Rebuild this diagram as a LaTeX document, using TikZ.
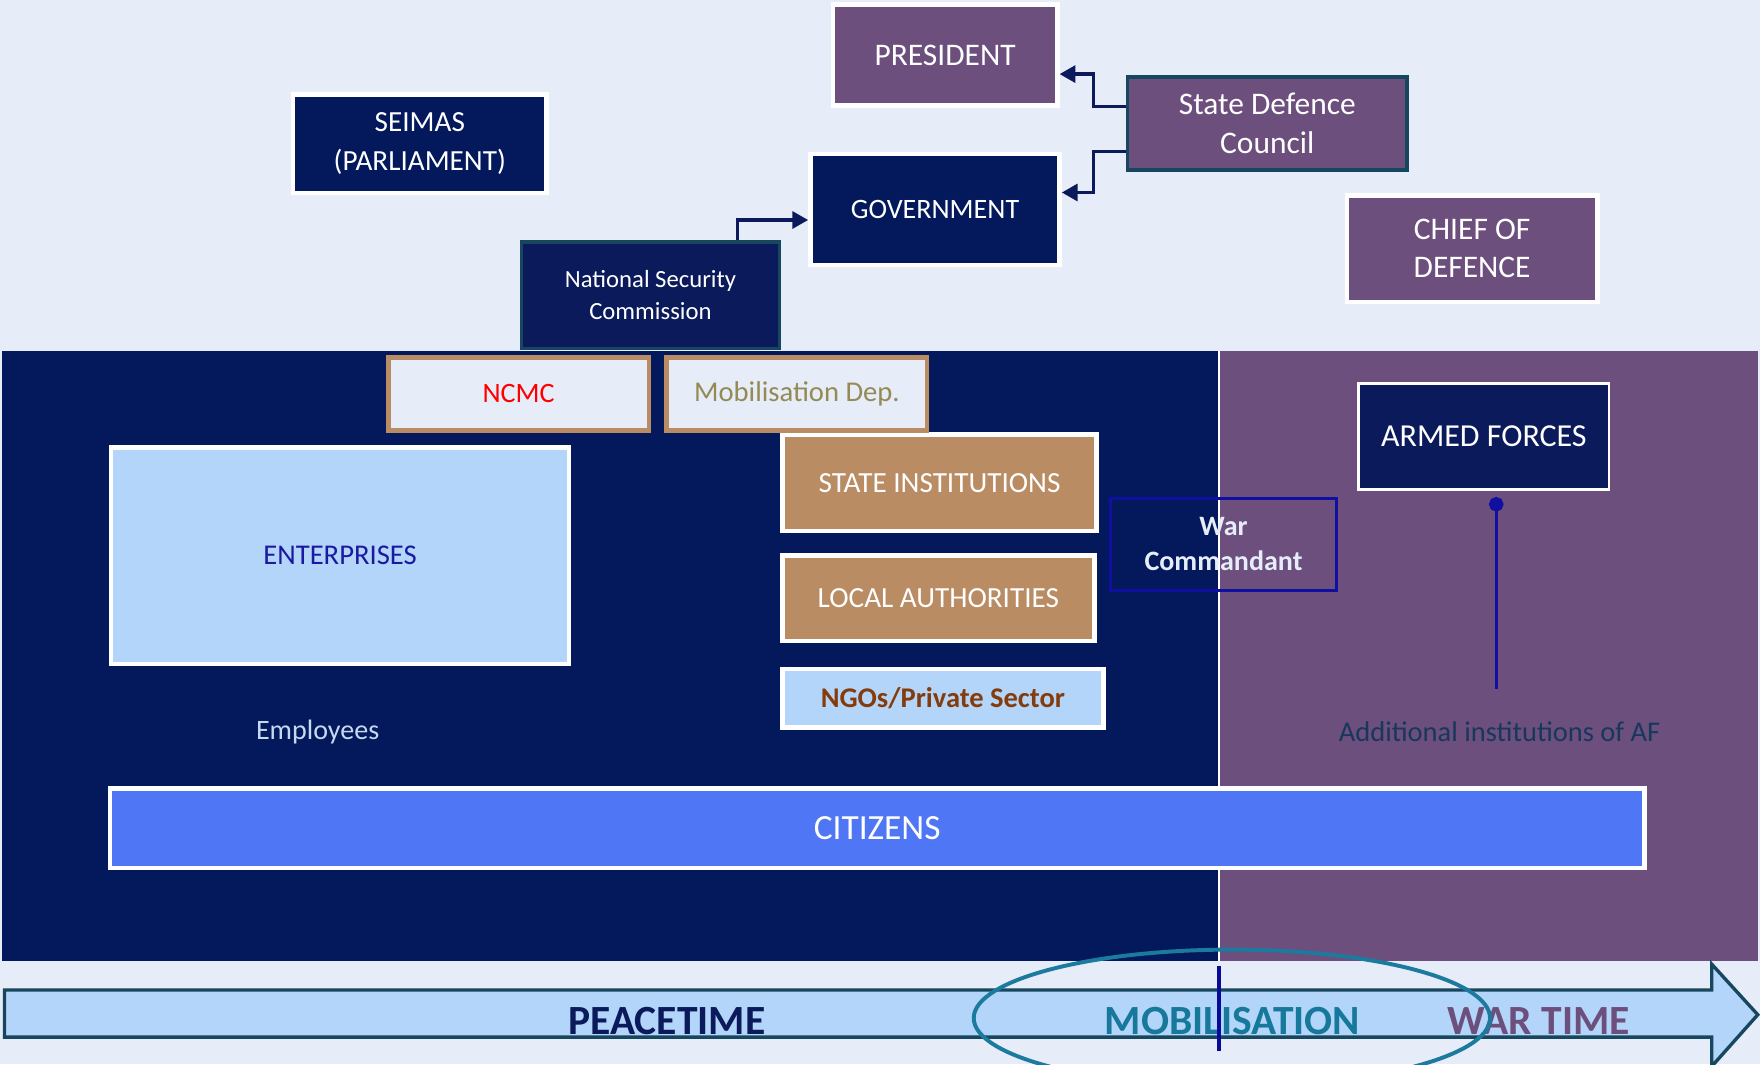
\documentclass[tikz,border=0pt]{standalone}
\usepackage{fontspec}
\setmainfont{Carlito}
\usetikzlibrary{arrows.meta,calc}
\definecolor{bg}{HTML}{E6ECF8}
\definecolor{navy}{HTML}{03195C}
\definecolor{navyb}{HTML}{0B1A5A}
\definecolor{plum}{HTML}{6C4F7C}
\definecolor{tan}{HTML}{B98C64}
\definecolor{lblue}{HTML}{B4D5FA}
\definecolor{citblue}{HTML}{4F76F5}
\definecolor{tealb}{HTML}{17475E}
\definecolor{olive}{HTML}{948A54}
\definecolor{brownt}{HTML}{843C0C}
\definecolor{entblue}{HTML}{1A1AA0}
\definecolor{warblue}{HTML}{1010A0}
\definecolor{elteal}{HTML}{1C7A9E}
\definecolor{mobteal}{HTML}{16789A}
\definecolor{emptext}{HTML}{C6D9F1}
\definecolor{addtext}{HTML}{17375E}
\definecolor{vline}{HTML}{0A0A9A}
\begin{document}
\begin{tikzpicture}[x=1pt,y=-1pt,
  box/.style={draw=white, line width=4pt, inner sep=0pt, align=center, text=white,
    font=\fontsize{25}{35}\selectfont},
  tealbox/.style={box, draw=tealb, line width=3pt},
  tanbox/.style={box, draw=tan, fill=bg},
  conn/.style={draw=navyb, line width=3pt, -{Triangle[length=14pt,width=15pt]}},
  period/.style={font=\fontsize{37}{40}\bfseries\selectfont, anchor=base, inner sep=0pt}]
\useasboundingbox (0,0) rectangle (1568,948);
\fill[bg] (0,0) rectangle (1568,948);

% top level
\node[box, fill=plum, minimum width=200pt, minimum height=90pt,
  font=\fontsize{28}{35}\selectfont] (pres) at (842,49) {PRESIDENT};
\node[tealbox, fill=plum, minimum width=249pt, minimum height=83pt,
  font=\fontsize{28}{35}\selectfont] (sdc) at (1129,110) {State Defence\\Council};
\node[box, fill=navy, minimum width=222pt, minimum height=99pt] (gov) at (833,186.5) {GOVERNMENT};
\node[box, fill=navy, minimum width=226pt, minimum height=88pt,
  font=\fontsize{26}{35}\selectfont] (seimas) at (374,128) {SEIMAS\\(PARLIAMENT)};
\node[box, fill=plum, minimum width=223pt, minimum height=95pt,
  font=\fontsize{28}{34}\selectfont] (chief) at (1311.5,221.5) {CHIEF OF\\DEFENCE};
\node[tealbox, fill=navyb, minimum width=230pt, minimum height=95pt,
  font=\fontsize{22}{28}\selectfont] (nsc) at (579.5,263) {National Security\\Commission};

\draw[conn] ($(sdc.west)+(0,-15)$) -- ++(-29,0) |- ($(pres.east)+(0,17)$);
\draw[conn] ($(sdc.west)+(0,25)$) -- ++(-29,0) |- ($(gov.east)+(0,-15)$);
\draw[conn] ($(nsc.north)+(77.5,0)$) |- ($(gov.west)+(0,9.5)$);

% panels
\fill[navy] (2,313) rectangle (1086,856);
\fill[plum] (1086,313) rectangle (1566,856);
\draw[white, line width=1.2pt] (1086,313) -- (1086,856);

\node[box, fill=lblue, text=entblue, minimum width=408pt, minimum height=193pt,
  font=\fontsize{25.5}{35}\selectfont] (ent) at (303,495) {ENTERPRISES};
\node[box, fill=tan, minimum width=280pt, minimum height=86pt,
  font=\fontsize{26}{35}\selectfont] (state) at (837,430) {STATE INSTITUTIONS};
\node[box, fill=tan, minimum width=278pt, minimum height=76pt,
  font=\fontsize{26}{35}\selectfont] (local) at (836,533) {LOCAL AUTHORITIES};
\node[box, fill=lblue, text=brownt, minimum width=286pt, minimum height=52pt,
  font=\fontsize{25.4}{30}\bfseries\selectfont] (ngo) at (840,622) {NGOs/Private Sector};
\node[tanbox, text=red, minimum width=232pt, minimum height=65pt] (ncmc) at (462,351) {NCMC};
\node[tanbox, text=olive, minimum width=232pt, minimum height=65pt,
  font=\fontsize{25.5}{35}\selectfont] (mob) at (710,351) {Mobilisation Dep.};

\node[box, draw=warblue, line width=3pt, text=bg, minimum width=201pt, minimum height=82pt,
  font=\fontsize{25}{31}\bfseries\selectfont] (war) at (1090,485) {War\\Commandant};

\node[box, fill=navyb, line width=2.5pt, minimum width=223pt, minimum height=94pt,
  font=\fontsize{28.5}{35}\selectfont] (af) at (1322,389) {ARMED FORCES};
\coordinate (afend) at (1333,614);
\draw[warblue, line width=3pt, {Circle[length=13pt,width=13pt]}-] ($(af.south)+(11,5.5)$) -- (afend);

\node[text=emptext, font=\fontsize{25}{30}\selectfont, inner sep=0pt] (emp) at (283,652) {Employees};
\node[text=addtext, font=\fontsize{25.4}{30}\selectfont, inner sep=0pt] (addaf) at (1336,652) {Additional institutions of AF};

\node[box, fill=citblue, minimum width=1367pt, minimum height=71pt,
  font=\fontsize{31.5}{36}\selectfont] (cit) at (781.5,738) {CITIZENS};

% timeline arrow
\draw[tealb, line width=3pt, fill=lblue] (4,882) -- (1525,882) -- (1525,859) -- (1566,904)
  -- (1525,950) -- (1525,924) -- (4,924) -- cycle;
\node[period, text=navyb] (peace) at (594,922) {PEACETIME};
\node[period, text=mobteal] (mobil) at (1098,922) {MOBILISATION};
\node[period, text=plum] (wartime) at (1371,922) {WAR TIME};

\draw[elteal, line width=3.5pt] (1097.5,907) ellipse [x radius=230, y radius=61];
\draw[vline, line width=3.5pt] (1086,861) -- (1086,936);
\end{tikzpicture}
\end{document}
